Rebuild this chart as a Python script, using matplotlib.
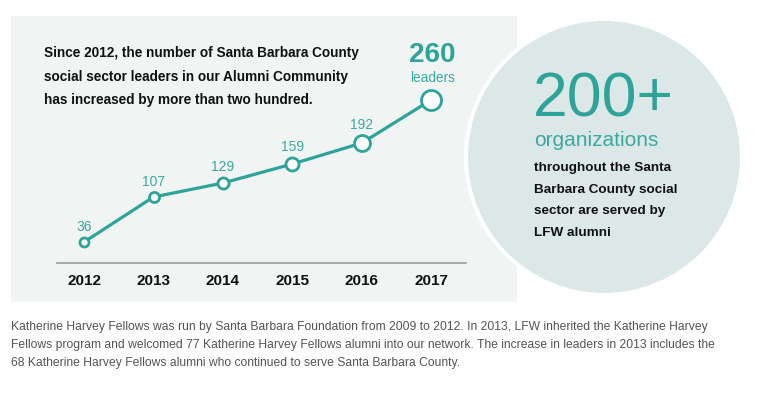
import matplotlib.pyplot as plt
from matplotlib.patches import Rectangle, Circle

plt.rcParams['font.family'] = ['Liberation Sans', 'DejaVu Sans']

years = [2012, 2013, 2014, 2015, 2016, 2017]
leaders = [36, 107, 129, 159, 192, 260]
marker_sizes = [6.5, 7.2, 8.0, 9.4, 11.5, 14.4]

title_lines = [
    'Since 2012, the number of Santa Barbara County',
    'social sector leaders in our Alumni Community',
    'has increased by more than two hundred.',
]
circle_lines = [
    'throughout the Santa',
    'Barbara County social',
    'sector are served by',
    'LFW alumni',
]
footnote_lines = [
    'Katherine Harvey Fellows was run by Santa Barbara Foundation from 2009 to 2012. In 2013, LFW inherited the Katherine Harvey',
    'Fellows program and welcomed 77 Katherine Harvey Fellows alumni into our network. The increase in leaders in 2013 includes the',
    '68 Katherine Harvey Fellows alumni who continued to serve Santa Barbara County.',
]

TEAL = '#2ea399'
TEAL_LIGHT = '#3aa9a0'
W, H = 759, 393

fig = plt.figure(figsize=(W / 100, H / 100), dpi=100)
fig.patch.set_facecolor('white')

# background layer in pixel coordinates
bg = fig.add_axes([0, 0, 1, 1])
bg.set_xlim(0, W)
bg.set_ylim(H, 0)
bg.axis('off')
bg.add_patch(Rectangle((11, 16), 506, 286, facecolor='#f0f4f3', edgecolor='none'))
bg.add_patch(Circle((604, 157), 140, facecolor='white', edgecolor='none'))
bg.add_patch(Circle((604, 157), 136, facecolor='#dce8e7', edgecolor='none'))

for i, line in enumerate(title_lines):
    bg.text(44, 53 + i * 23.5, line, fontsize=9.8, fontweight='bold', color='#111111',
            va='center', ha='left')

bg.text(533, 100, '200+', fontsize=45, color=TEAL, va='center', ha='left')
bg.text(534, 140, 'organizations', fontsize=15, color=TEAL_LIGHT, va='center', ha='left')
for i, line in enumerate(circle_lines):
    bg.text(534, 168 + i * 21.7, line, fontsize=9.7, fontweight='bold', color='#111111',
            va='center', ha='left')

for i, line in enumerate(footnote_lines):
    bg.text(11, 327 + i * 17.8, line, fontsize=8.7, color='#555555', va='center', ha='left')

# line chart
ax = fig.add_axes([57 / W, 1 - 263 / H, (466 - 57) / W, (263 - 30) / H])
ax.patch.set_alpha(0)
ax.set_xlim(2011.61, 2017.50)
ax.set_ylim(3, 370)
ax.plot(years, leaders, color=TEAL, lw=2.3, zorder=2)
for x, y, ms in zip(years, leaders, marker_sizes):
    ax.plot(x, y, 'o', ms=ms, mfc='white', mec=TEAL, mew=2.0, zorder=3)

for x, y, ms in zip(years[:-1], leaders[:-1], marker_sizes[:-1]):
    ax.annotate(str(y), (x, y), xytext=(0, ms / 2 + 7.5), textcoords='offset points',
                ha='center', va='center', fontsize=10, color=TEAL_LIGHT)
ax.annotate(str(leaders[-1]), (years[-1], leaders[-1]), xytext=(1, 32),
            textcoords='offset points', ha='center', va='center',
            fontsize=20, fontweight='bold', color=TEAL)
ax.annotate('leaders', (years[-1], leaders[-1]), xytext=(1, 16),
            textcoords='offset points', ha='center', va='center',
            fontsize=9.8, color=TEAL_LIGHT)

ax.set_xticks(years)
ax.set_xticklabels([str(y) for y in years], fontsize=11, fontweight='bold', color='#111111')
ax.tick_params(axis='x', length=0, pad=8)
ax.set_yticks([])
for side in ['top', 'right', 'left']:
    ax.spines[side].set_visible(False)
ax.spines['bottom'].set_color('#9a9a9a')
ax.spines['bottom'].set_linewidth(1.2)

fig.savefig('out.png', dpi=100)
